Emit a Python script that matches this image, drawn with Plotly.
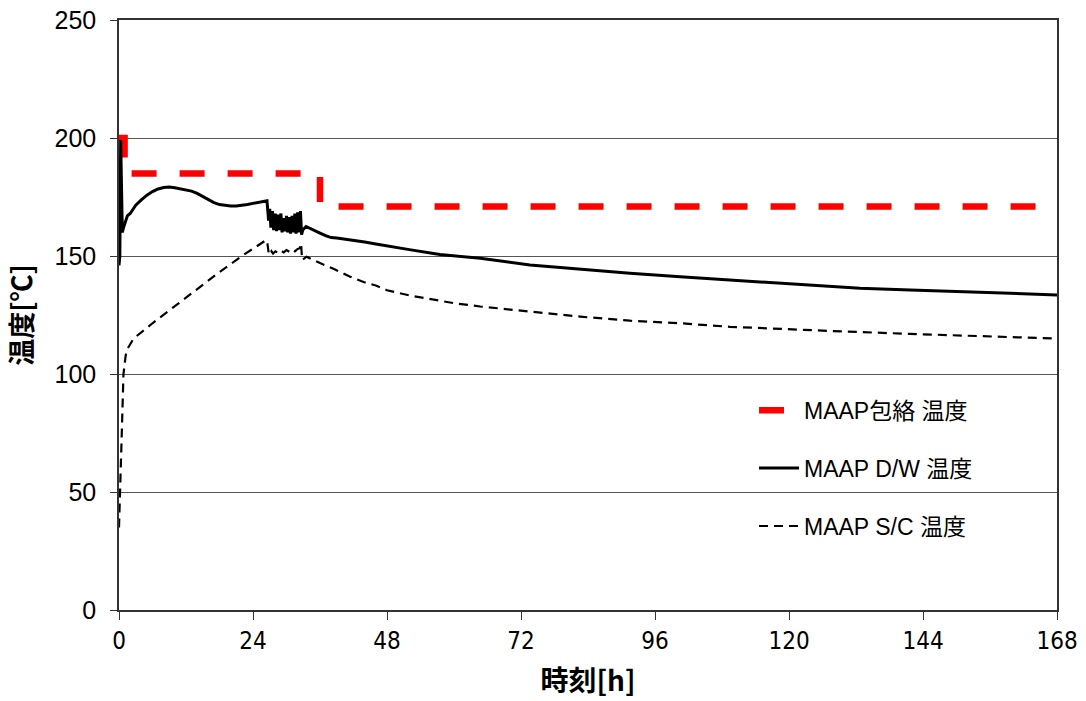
import plotly.graph_objects as go

# ---------------- data ----------------
env_t = [0, 1, 1, 36, 36, 168]
env_v = [200, 200, 185, 185, 171, 171]

dw_t = [0, 0.15, 0.3, 0.45, 0.6, 0.8, 1.1, 1.5, 2.0, 2.5, 3.0, 4.0, 5.0, 6.0, 7.0, 8.0, 9.0,
        10, 11, 12, 13, 14, 15, 16, 17, 18, 19, 20, 21, 22, 23, 24, 25, 26, 26.5,
        26.8, 27.0, 27.2, 27.5, 27.7, 28.0, 28.2, 28.5, 28.7, 29.0, 29.2, 29.5, 29.7, 30.0,
        30.2, 30.5, 30.7, 31.0, 31.2, 31.5, 31.7, 32.0, 32.2, 32.5, 32.7, 32.9,
        33.5, 34, 35, 36, 37, 38, 39, 40, 42, 44, 46, 48, 52, 57.5, 64.7, 73.6, 82.6, 91.5,
        100.5, 109.4, 118.4, 123.8, 132.7, 141.7, 150.6, 159.6, 168]
dw_v = [146, 150, 199, 185, 160, 162, 164, 167, 168, 170, 171.5, 173.8, 175.8, 177.3, 178.4, 179, 179.2,
        178.9, 178.5, 178, 177.5, 176.5, 175.2, 173.8, 172.6, 171.8, 171.4, 171.2, 171.2, 171.4, 171.8, 172.3, 172.8, 173.2, 173.4,
        165, 170, 162, 169, 161, 168, 160.5, 167.5, 161, 168, 160, 166, 160.5, 167,
        160, 166.5, 159.5, 167, 160, 168, 159.5, 168.5, 160, 169, 159, 161,
        162.5, 162, 160.8, 159.7, 158.6, 157.8, 157.6, 157.3, 156.6, 155.9, 155.1, 154.4, 152.7, 150.6, 149, 146.2, 144.4, 142.7,
        141.2, 139.8, 138.4, 137.7, 136.3, 135.6, 134.9, 134.2, 133.5]

sc_t = [0, 0.3, 0.5, 0.8, 1.2, 1.6, 2.6, 6, 10, 14, 18, 22, 26.4,
        26.6, 26.8, 27.0, 27.3, 27.6, 28.0, 28.5, 29.0, 29.5, 30.0, 30.5, 31.0, 31.5, 32.0, 32.4, 32.6, 32.8,
        33.6, 36, 38.5, 41.4, 43.8, 46, 48, 52, 56, 60, 64.7, 73.6, 82.6, 91.5, 100.5, 109.4, 118.4,
        130, 141.7, 150, 160, 168]
sc_v = [35, 55, 75, 100, 108, 111, 115, 121.5, 128.8, 136, 143.2, 150, 156.8,
        155, 151.5, 150.5, 152, 151, 152, 151.3, 152.3, 151.5, 152.5, 151.8, 152.8, 152, 153, 153.3, 155.4, 148.3,
        149.7, 147, 144.5, 141.2, 139, 137.5, 135.5, 133.3, 131.5, 130, 128.6, 126.4, 124.3, 122.6, 121.5, 120, 119,
        118, 117, 116.3, 115.5, 115]

x_ticks = [0, 24, 48, 72, 96, 120, 144, 168]
y_ticks = [0, 50, 100, 150, 200, 250]

names = ["MAAP包絡 温度", "MAAP D/W 温度", "MAAP S/C 温度"]

# ---------------- figure ----------------
fig = go.Figure()
fig.add_trace(go.Scatter(x=env_t, y=env_v, mode="lines", name=names[0], legendgroup="a",
                         line=dict(color="#ff0000", width=6.5, dash="25px,23px")))
fig.add_trace(go.Scatter(x=dw_t, y=dw_v, mode="lines", name=names[1], legendgroup="b",
                         line=dict(color="#000000", width=3)))
fig.add_trace(go.Scatter(x=sc_t, y=sc_v, mode="lines", name=names[2], legendgroup="c",
                         line=dict(color="#000000", width=2.2, dash="9px,6px")))

cjk = "Liberation Sans, Arial, Noto Sans CJK JP"

fig.update_layout(
    width=1086, height=701,
    margin=dict(l=119, r=29, t=20, b=91, autoexpand=False),
    paper_bgcolor="white", plot_bgcolor="white",
    font=dict(family=cjk, color="#000000"),
    showlegend=True,
    legend=dict(x=0.677, y=0.375, xanchor="left", yanchor="top",
                bgcolor="rgba(0,0,0,0)", font=dict(size=23, family=cjk, color="#000"),
                tracegroupgap=25, itemwidth=40),
    xaxis=dict(range=[0, 168], tickvals=x_ticks, ticktext=[str(v) for v in x_ticks],
               showgrid=False, zeroline=False, showline=True, linecolor="#333", linewidth=1.5,
               mirror=True, ticks="outside", ticklen=8, tickcolor="#333", automargin=False,
               tickfont=dict(size=24, family="Liberation Sans Narrow, DejaVu Sans Condensed, Liberation Sans"),
               title=dict(text="<b>時刻[h]</b>", font=dict(size=28, family="Noto Sans CJK JP"), standoff=18)),
    yaxis=dict(range=[0, 250], tickvals=y_ticks,
               showgrid=True, gridcolor="#555", gridwidth=1, zeroline=False,
               showline=True, linecolor="#333", linewidth=1.5, mirror=True,
               ticks="outside", ticklen=7, tickcolor="#333", automargin=False, ticklabelstandoff=9,
               tickfont=dict(size=25, family="Liberation Sans, Arial"),
               title=dict(text="<b>温度[℃]</b>", font=dict(size=27, family="Noto Sans CJK JP"), standoff=14)),
)

fig.write_html("out.html", config={"displayModeBar": False},
               post_script="document.body.style.margin='0';")
